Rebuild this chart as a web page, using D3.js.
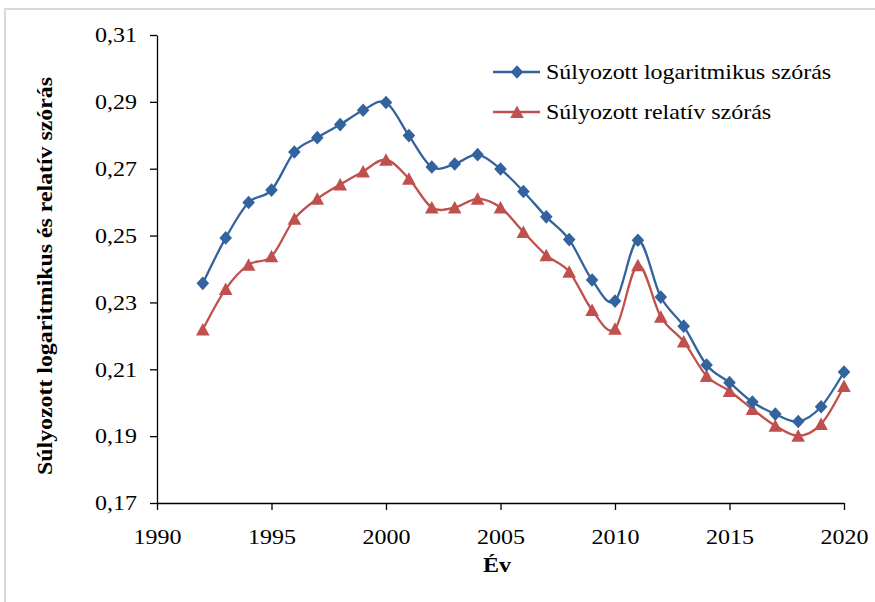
<!DOCTYPE html>
<html>
<head>
<meta charset="utf-8">
<script src="https://cdn.jsdelivr.net/npm/d3@7/dist/d3.min.js"></script>
<style>
  html, body { margin: 0; padding: 0; background: #fff; }
  svg { display: block; }
  text { font-family: "Liberation Serif", "Times New Roman", serif; fill: #000; }
</style>
</head>
<body>
<svg id="chart" width="875" height="602"></svg>
<script>
const years = [1992,1993,1994,1995,1996,1997,1998,1999,2000,2001,2002,2003,2004,2005,2006,2007,2008,2009,2010,2011,2012,2013,2014,2015,2016,2017,2018,2019,2020];
const logValues = [0.2357,0.2493,0.2599,0.2636,0.2750,0.2793,0.2832,0.2875,0.2898,0.2799,0.2705,0.2714,0.2742,0.2699,0.2632,0.2556,0.2488,0.2367,0.2304,0.2486,0.2316,0.2229,0.2113,0.2060,0.2002,0.1966,0.1944,0.1988,0.2092];
const relValues = [0.2219,0.2340,0.2413,0.2438,0.2550,0.2610,0.2653,0.2692,0.2727,0.2670,0.2584,0.2584,0.2610,0.2584,0.2511,0.2441,0.2392,0.2277,0.2221,0.2411,0.2257,0.2183,0.2080,0.2035,0.1981,0.1931,0.1901,0.1936,0.2050];
const seriesNames = ["Súlyozott logaritmikus szórás", "Súlyozott relatív szórás"];
const xTicks = [1990,1995,2000,2005,2010,2015,2020];
const yTicks = [0.17,0.19,0.21,0.23,0.25,0.27,0.29,0.31];
const xTitle = "Év";
const yTitle = "Súlyozott logaritmikus és relatív szórás";

const BLUE = "#33639e", RED = "#c0504d";
const SX = 1.2; // horizontal stretch of text in the reference

const svg = d3.select("#chart");
// outer frame (top/left visible)
svg.append("rect").attr("x",5).attr("y",9).attr("width",900).attr("height",700)
  .attr("fill","none").attr("stroke","#d9d9d9").attr("stroke-width",2);

const x = d3.scaleLinear().domain([1990,2020]).range([157,844]);
const y = d3.scaleLinear().domain([0.17,0.31]).range([503,35]);
const fmt = d => d.toFixed(2).replace(".", ",");

// Y axis
const gy = svg.append("g").attr("transform","translate(157,0)")
  .call(d3.axisLeft(y).tickValues(yTicks).tickSize(7).tickSizeOuter(0).tickFormat(fmt));
gy.select(".domain").attr("stroke","#000").attr("stroke-width",1.3);
gy.selectAll(".tick line").attr("stroke","#000").attr("stroke-width",1.3);
gy.selectAll(".tick text").attr("font-size",20).attr("font-family","Liberation Serif")
  .attr("x", -20/SX).attr("dy","0.34em").attr("transform",`scale(${SX},1)`);

// X axis
const gx = svg.append("g").attr("transform","translate(0,503)")
  .call(d3.axisBottom(x).tickValues(xTicks).tickSize(7).tickSizeOuter(0).tickFormat(d3.format("d")));
gx.select(".domain").attr("stroke","#000").attr("stroke-width",1.3);
gx.selectAll(".tick line").attr("stroke","#000").attr("stroke-width",1.3);
gx.selectAll(".tick text").attr("font-size",20).attr("font-family","Liberation Serif")
  .attr("y", 41).attr("dy","0").attr("transform",`scale(${SX},1)`);

// Axis titles
svg.append("text").attr("transform",`translate(497,572) scale(${SX},1)`)
  .attr("text-anchor","middle").attr("font-size",20).attr("font-weight","bold").text(xTitle);
svg.append("text").attr("transform",`translate(52,276) scale(1.1,1) rotate(-90)`)
  .attr("text-anchor","middle").attr("font-size",20).attr("font-weight","bold")
  .attr("textLength",398).attr("lengthAdjust","spacingAndGlyphs").text(yTitle);

// Lines
const line = d3.line().x(d => x(d[0])).y(d => y(d[1])).curve(d3.curveCatmullRom.alpha(0));
const logData = years.map((yr,i) => [yr, logValues[i]]);
const relData = years.map((yr,i) => [yr, relValues[i]]);

const diamond = "M0,-6.8L6.3,0L0,6.8L-6.3,0Z";
const triangle = "M0,-6.5L6.8,6L-6.8,6Z";

svg.append("path").datum(relData).attr("d",line).attr("fill","none").attr("stroke",RED).attr("stroke-width",2.3);
svg.append("g").selectAll("path").data(relData).join("path")
  .attr("d",triangle).attr("transform",d=>`translate(${x(d[0])},${y(d[1])})`).attr("fill",RED);

svg.append("path").datum(logData).attr("d",line).attr("fill","none").attr("stroke",BLUE).attr("stroke-width",2.3);
svg.append("g").selectAll("path").data(logData).join("path")
  .attr("d",diamond).attr("transform",d=>`translate(${x(d[0])},${y(d[1])})`).attr("fill",BLUE);

// Legend
const legend = [{name:seriesNames[0], color:BLUE, shape:diamond, y:72},
                {name:seriesNames[1], color:RED, shape:triangle, y:112}];
const lg = svg.append("g").selectAll("g").data(legend).join("g");
lg.append("line").attr("x1",493).attr("x2",540).attr("y1",d=>d.y).attr("y2",d=>d.y)
  .attr("stroke",d=>d.color).attr("stroke-width",2.3);
lg.append("path").attr("d",d=>d.shape).attr("transform",d=>`translate(517,${d.y})`).attr("fill",d=>d.color);
lg.append("text").attr("transform",d=>`translate(546,${d.y}) scale(${SX},1)`)
  .attr("dy","0.33em").attr("font-size",20).text(d=>d.name);
</script>
</body>
</html>
